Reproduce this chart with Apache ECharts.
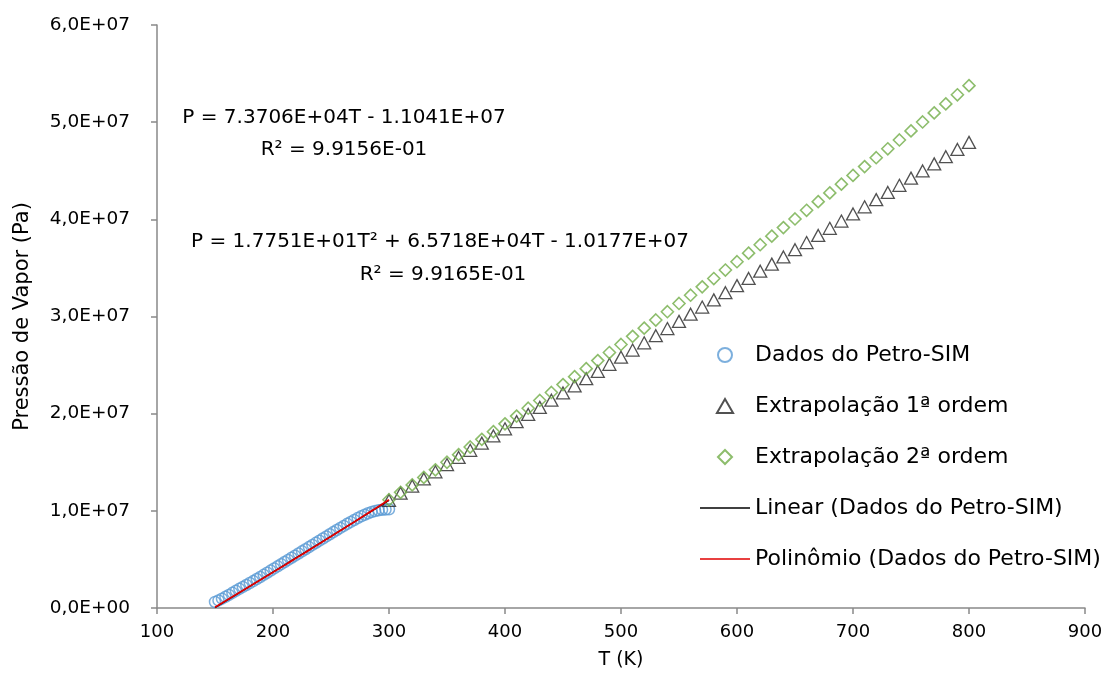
<!DOCTYPE html>
<html>
<head>
<meta charset="utf-8">
<script src="https://cdn.jsdelivr.net/npm/echarts@6/dist/echarts.min.js"></script>
<style>
  html, body { margin: 0; padding: 0; background: #fff; }
  #chart { width: 1109px; height: 686px; }
</style>
</head>
<body>
<div id="chart"></div>
<script>
// ---- Data (pressures in units of 1E6 Pa) ----
var petroT = [150,153,156,159,162,165,168,171,174,177,180,183,186,189,192,195,198,201,204,207,210,213,216,219,222,225,228,231,234,237,240,243,246,249,252,255,258,261,264,267,270,273,276,279,282,285,288,291,294,297,300];
var petroP = [0.62,0.78,0.96,1.15,1.35,1.56,1.77,1.97,2.17,2.37,2.57,2.77,2.98,3.19,3.41,3.63,3.85,4.07,4.29,4.51,4.73,4.95,5.17,5.39,5.61,5.83,6.05,6.27,6.49,6.71,6.93,7.15,7.37,7.59,7.81,8.03,8.24,8.45,8.66,8.86,9.06,9.25,9.43,9.60,9.75,9.88,9.98,10.06,10.11,10.14,10.16];

var extrapT = [300,310,320,330,340,350,360,370,380,390,400,410,420,430,440,450,460,470,480,490,500,510,520,530,540,550,560,570,580,590,600,610,620,630,640,650,660,670,680,690,700,710,720,730,740,750,760,770,780,790,800];
var extrap1P = [11.07,11.81,12.55,13.28,14.02,14.76,15.49,16.23,16.97,17.71,18.44,19.18,19.92,20.65,21.39,22.13,22.86,23.60,24.34,25.08,25.81,26.55,27.29,28.02,28.76,29.50,30.24,30.97,31.71,32.45,33.18,33.92,34.66,35.39,36.13,36.87,37.61,38.34,39.08,39.82,40.55,41.29,42.03,42.77,43.50,44.24,44.98,45.71,46.45,47.19,47.92];
var extrap2P = [11.14,11.90,12.67,13.44,14.22,15.00,15.78,16.57,17.36,18.15,18.95,19.75,20.56,21.36,22.18,22.99,23.81,24.63,25.46,26.29,27.12,27.96,28.80,29.64,30.49,31.34,32.19,33.05,33.91,34.78,35.64,36.52,37.39,38.27,39.15,40.04,40.93,41.82,42.72,43.62,44.52,45.43,46.34,47.26,48.17,49.10,50.02,50.95,51.88,52.82,53.76];

var linTrendT = [150, 300];
var linTrendP = [0.015, 11.07];
var polyTrendT = [150,160,170,180,190,200,210,220,230,240,250,260,270,280,290,300];
var polyTrendP = [0.08,0.79,1.51,2.23,2.95,3.68,4.41,5.14,5.88,6.62,7.36,8.11,8.86,9.62,10.37,11.14];

var seriesNames = ['Dados do Petro-SIM','Extrapolação 1ª ordem','Extrapolação 2ª ordem','Linear (Dados do Petro-SIM)','Polinômio (Dados do Petro-SIM)'];
var eq1 = ['P = 7.3706E+04T - 1.1041E+07', 'R² = 9.9156E-01'];
var eq2 = ['P = 1.7751E+01T² + 6.5718E+04T - 1.0177E+07', 'R² = 9.9165E-01'];
var xTitle = 'T (K)';
var yTitle = 'Pressão de Vapor (Pa)';
var UNIT = 1e6;

function pairs(xs, ys) {
  return xs.map(function (x, i) { return [x, ys[i] * UNIT]; });
}
function sciFmt(v) {
  if (v === 0) return '0,0E+00';
  var e = Math.floor(Math.log10(Math.abs(v)) + 1e-9);
  var m = v / Math.pow(10, e);
  var es = (e < 10 ? '0' : '') + e;
  return m.toFixed(1).replace('.', ',') + 'E+' + es;
}

var FONT = '"DejaVu Sans", sans-serif';
var axisColor = '#898989';

var chart = echarts.init(document.getElementById('chart'));
chart.setOption({
  animation: false,
  backgroundColor: '#ffffff',
  textStyle: { fontFamily: FONT },
  grid: { left: 157, right: 24, top: 25, bottom: 78, containLabel: false },
  xAxis: {
    type: 'value', min: 100, max: 900, interval: 100,
    name: xTitle, nameLocation: 'middle', nameGap: 43,
    nameTextStyle: { fontSize: 19, color: '#000', fontFamily: FONT },
    axisLine: { show: true, onZero: false, lineStyle: { color: axisColor, width: 1.5 } },
    axisTick: { show: true, length: 6, lineStyle: { color: axisColor, width: 1.5 } },
    axisLabel: { fontSize: 18, color: '#000', margin: 15, fontFamily: FONT },
    splitLine: { show: false }
  },
  yAxis: {
    type: 'value', min: 0, max: 6e7, interval: 1e7,
    name: yTitle, nameLocation: 'middle', nameGap: 124, nameRotate: 90,
    nameTextStyle: { fontSize: 21, color: '#000', fontFamily: FONT },
    axisLine: { show: true, lineStyle: { color: axisColor, width: 1.5 } },
    axisTick: { show: true, length: 6, lineStyle: { color: axisColor, width: 1.5 } },
    axisLabel: { fontSize: 18.5, color: '#000', margin: 27, formatter: sciFmt, fontFamily: FONT },
    splitLine: { show: false }
  },
  legend: {
    orient: 'vertical', left: 695, top: 338,
    itemWidth: 50, itemHeight: 14, itemGap: 27,
    symbolKeepAspect: true,
    textStyle: { fontSize: 22, lineHeight: 24, color: '#000', fontFamily: FONT },
    data: [
      { name: seriesNames[0], icon: 'circle' },
      { name: seriesNames[1], icon: 'path://M7.5,0 L15,13 L0,13 Z' },
      { name: seriesNames[2], icon: 'path://M7,0 L14,7 L7,14 L0,7 Z' },
      { name: seriesNames[3], icon: 'path://M0,0 H50 V1.6 H0 Z' },
      { name: seriesNames[4], icon: 'path://M0,0 H50 V1.6 H0 Z' }
    ]
  },
  graphic: [
    { type: 'text', position: [344, 118], style: { text: eq1[0], fontSize: 20, fill: '#000', fontFamily: FONT, align: 'center', verticalAlign: 'middle' } },
    { type: 'text', position: [344, 150], style: { text: eq1[1], fontSize: 20, fill: '#000', fontFamily: FONT, align: 'center', verticalAlign: 'middle' } },
    { type: 'text', position: [440, 242], style: { text: eq2[0], fontSize: 20, fill: '#000', fontFamily: FONT, align: 'center', verticalAlign: 'middle' } },
    { type: 'text', position: [443, 275], style: { text: eq2[1], fontSize: 20, fill: '#000', fontFamily: FONT, align: 'center', verticalAlign: 'middle' } }
  ],
  series: [
    {
      name: seriesNames[0], type: 'scatter', symbol: 'circle', symbolSize: 11,
      itemStyle: { color: 'rgba(0,0,0,0)', borderColor: '#5B9BD5', borderWidth: 1.5 },
      data: pairs(petroT, petroP), z: 2
    },
    {
      name: seriesNames[1], type: 'scatter', symbol: 'triangle', symbolSize: [13, 12],
      itemStyle: { color: 'rgba(0,0,0,0)', borderColor: '#262626', borderWidth: 1.3 },
      data: pairs(extrapT, extrap1P), z: 3
    },
    {
      name: seriesNames[2], type: 'scatter', symbol: 'diamond', symbolSize: [12, 12],
      itemStyle: { color: 'rgba(0,0,0,0)', borderColor: '#70AD47', borderWidth: 1.6 },
      data: pairs(extrapT, extrap2P), z: 4
    },
    {
      name: seriesNames[3], type: 'line', symbol: 'none', smooth: false,
      lineStyle: { color: '#000000', width: 1.2 }, itemStyle: { color: '#000000' },
      data: pairs(linTrendT, linTrendP), z: 5
    },
    {
      name: seriesNames[4], type: 'line', symbol: 'none', smooth: true,
      lineStyle: { color: '#E00000', width: 1.8 }, itemStyle: { color: '#E00000' },
      data: pairs(polyTrendT, polyTrendP), z: 6
    }
  ]
});
</script>
</body>
</html>
